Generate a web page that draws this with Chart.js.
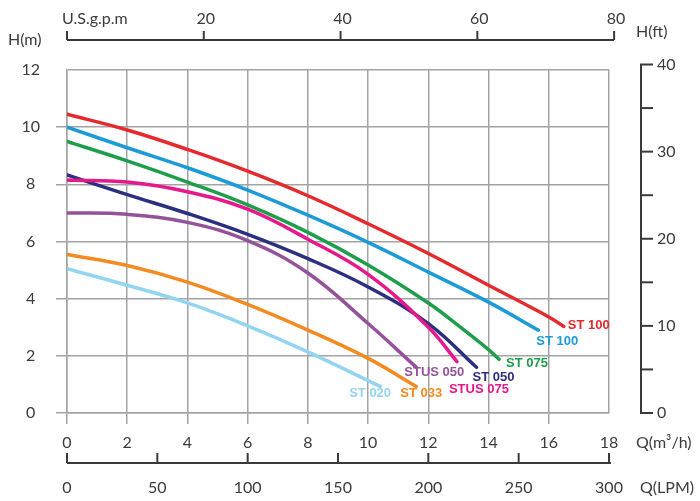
<!DOCTYPE html>
<html>
<head>
<meta charset="utf-8">
<script src="https://cdn.jsdelivr.net/npm/chart.js@4.4.1/dist/chart.umd.min.js"></script>
<style>
  html, body { margin: 0; padding: 0; background: #fff; }
  #wrap { width: 700px; height: 501px; }
</style>
</head>
<body>
<div id="wrap"><canvas id="chart" width="700" height="501"></canvas></div>
<script>
// pump curves, Q in m3/h, H in m
const names = ["ST 100", "ST 100", "ST 075", "STUS 075", "ST 050", "STUS 050", "ST 033", "ST 020"]
const colors = ["#e52a2e", "#1c9bd7", "#1e9e4b", "#e5198b", "#2c2f80", "#94529b", "#f28b22", "#93d4f1"]

const q_st100r = [0, 2, 4, 6, 8, 10, 12, 14, 16, 16.5]
const h_st100r = [10.45, 9.9, 9.22, 8.46, 7.6, 6.62, 5.58, 4.47, 3.36, 3.03]
const q_st100b = [0, 2, 4, 6, 8, 10, 12, 14, 15.65]
const h_st100b = [10.0, 9.28, 8.58, 7.8, 6.92, 5.97, 4.93, 3.88, 2.9]
const q_st075 = [0, 2, 4, 6, 8, 10, 12, 13, 14, 14.35]
const h_st075 = [9.5, 8.82, 8.08, 7.28, 6.32, 5.18, 3.85, 3.06, 2.22, 1.88]
const q_stus075 = [0, 2, 4, 6, 8, 10, 12, 12.95]
const h_stus075 = [8.15, 8.08, 7.74, 7.13, 6.08, 4.85, 3.0, 1.8]
const q_st050 = [0, 2, 4, 6, 8, 10, 12, 13.6]
const h_st050 = [8.33, 7.64, 6.98, 6.25, 5.4, 4.41, 3.13, 1.6]
const q_stus050 = [0, 2, 4, 6, 8, 10, 11.6]
const h_stus050 = [7.0, 6.95, 6.67, 6.03, 4.9, 3.13, 1.6]
const q_st033 = [0, 2, 4, 6, 8, 10, 11.6]
const h_st033 = [5.55, 5.16, 4.58, 3.8, 2.9, 1.91, 0.93]
const q_st020 = [0, 2, 4, 6, 8, 10.4]
const h_st020 = [5.05, 4.47, 3.85, 3.05, 2.14, 0.93]

// secondary axis ticks
const gpmTicks = [0, 20, 40, 60, 80]
const lpmTicks = [0, 50, 100, 150, 200, 250, 300]
const ftTicks = [0, 5, 10, 15, 20, 25, 30, 35, 40]
const ftLabels = [0, 10, 20, 30, 40]

const GPM_PER_M3H = 4.403
const LPM_PER_M3H = 16.667
const FT_PER_M = 3.2808

// where each curve label sits relative to the curve end (px)
const labelOffsets = [[4, -1], [-2, 11], [7, 4], [-8, 28], [-4, 10], [-12, 5], [-16, 7], [-31, 7]]

const flows = [q_st100r, q_st100b, q_st075, q_stus075, q_st050, q_stus050, q_st033, q_st020]
const heads = [h_st100r, h_st100b, h_st075, h_stus075, h_st050, h_stus050, h_st033, h_st020]

let tickFont = { family: "Lato", size: 16 }
let textColor = "#3b3b3b"
let gridColor = "#a3a3a3"

let datasets = []
names.forEach((name, i) => {
    let pts = []
    flows[i].forEach((q, j) => pts.push({ x: q, y: heads[i][j] }))
    datasets.push({
        label: name,
        data: pts,
        borderColor: colors[i],
        borderWidth: 3.5,
        borderCapStyle: "round",
        pointRadius: 0,
        tension: 0.4,
        fill: false
    })
})

let extras = {
    id: "extras",
    afterDraw(chart) {
        let ctx = chart.ctx
        let xs = chart.scales.x
        let ys = chart.scales.y
        ctx.save()
        ctx.strokeStyle = "#3a3a3a"
        ctx.fillStyle = textColor
        ctx.lineWidth = 2
        ctx.font = "16px Lato"
        ctx.textBaseline = "middle"

        // top U.S.g.p.m axis
        let yTop = 40
        ctx.beginPath()
        ctx.moveTo(xs.getPixelForValue(0), yTop)
        ctx.lineTo(xs.getPixelForValue(80 / GPM_PER_M3H), yTop)
        ctx.stroke()
        ctx.textAlign = "center"
        gpmTicks.forEach(g => {
            let x = xs.getPixelForValue(g / GPM_PER_M3H)
            ctx.beginPath()
            ctx.moveTo(x, yTop)
            ctx.lineTo(x, yTop - 9)
            ctx.stroke()
            if (g > 0) ctx.fillText(String(g), x + 2, 19)
        })
        ctx.textAlign = "left"
        ctx.fillText("U.S.g.p.m", 62, 19)

        // bottom LPM axis
        let yL = 463
        ctx.beginPath()
        ctx.moveTo(xs.getPixelForValue(0), yL)
        ctx.lineTo(xs.getPixelForValue(300 / LPM_PER_M3H) + 2, yL)
        ctx.stroke()
        ctx.textAlign = "center"
        lpmTicks.forEach(l => {
            let x = xs.getPixelForValue(l / LPM_PER_M3H)
            ctx.beginPath()
            ctx.moveTo(x, yL)
            ctx.lineTo(x, yL - 10)
            ctx.stroke()
            ctx.fillText(String(l), x, 488)
        })

        // right H(ft) axis
        let xR = 641
        ctx.beginPath()
        ctx.moveTo(xR, ys.getPixelForValue(40 / FT_PER_M))
        ctx.lineTo(xR, ys.getPixelForValue(0))
        ctx.stroke()
        ftTicks.forEach(f => {
            let y = ys.getPixelForValue(f / FT_PER_M)
            ctx.beginPath()
            ctx.moveTo(xR - 1, y)
            ctx.lineTo(xR + 12, y)
            ctx.stroke()
        })
        ctx.textAlign = "left"
        ftLabels.forEach(f => {
            ctx.fillText(String(f), 657, ys.getPixelForValue(f / FT_PER_M))
        })

        // unit captions
        ctx.fillText("H(m)", 8, 40)
        ctx.fillText("H(ft)", 636, 32)
        ctx.fillText("Q(m\u00b3/h)", 636, 443)
        ctx.fillText("Q(LPM)", 640, 488)

        // curve labels
        ctx.font = "bold 13px 'Liberation Sans'"
        chart.data.datasets.forEach((ds, i) => {
            let last = ds.data[ds.data.length - 1]
            let x = xs.getPixelForValue(last.x) + labelOffsets[i][0]
            let y = ys.getPixelForValue(last.y) + labelOffsets[i][1]
            ctx.fillStyle = colors[i]
            ctx.fillText(ds.label, x, y)
        })
        ctx.restore()
    }
}

let config = {
    type: "line",
    data: { datasets: datasets },
    options: {
        responsive: false,
        animation: false,
        layout: { padding: { top: 70, right: 91, left: 0, bottom: 0 } },
        plugins: {
            legend: { display: false },
            tooltip: { enabled: false }
        },
        scales: {
            x: {
                type: "linear",
                min: 0,
                max: 18,
                ticks: { stepSize: 2, font: tickFont, color: textColor, padding: 9, maxRotation: 0 },
                grid: {
                    color: gridColor,
                    lineWidth: 1.5,
                    tickLength: 11,
                    tickColor: c => (c.tick && c.tick.value === 18 ? "rgba(0,0,0,0)" : gridColor)
                },
                border: { color: gridColor, width: 1.5 },
                afterFit: s => { s.height = 88 }
            },
            y: {
                min: 0,
                max: 12,
                ticks: { stepSize: 2, font: tickFont, color: textColor, padding: 16, crossAlign: "center" },
                grid: {
                    color: gridColor,
                    lineWidth: 1.5,
                    tickLength: 11,
                    tickColor: c => (c.tick && c.tick.value === 12 ? "rgba(0,0,0,0)" : gridColor)
                },
                border: { color: gridColor, width: 1.5 },
                afterFit: s => { s.width = 67 }
            }
        }
    },
    plugins: [extras]
}

let chart = new Chart(document.getElementById("chart"), config)
</script>
</body>
</html>
